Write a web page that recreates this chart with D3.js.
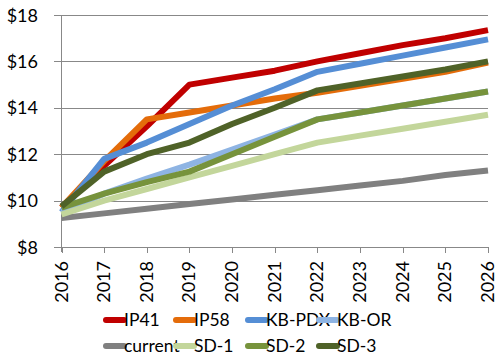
<!DOCTYPE html>
<html>
<head>
<meta charset="utf-8">
<script src="https://cdn.jsdelivr.net/npm/d3@7"></script>
<style>
  body { margin: 0; background: #fff; }
  text { font-family: Lato, 'Open Sans', sans-serif; fill: #000; }
</style>
</head>
<body>
<div id="chart"></div>
<script>
const years = [2016, 2017, 2018, 2019, 2020, 2021, 2022, 2023, 2024, 2025, 2026]
const seriesNames = ['IP41', 'IP58', 'KB-PDX', 'KB-OR', 'current', 'SD-1', 'SD-2', 'SD-3']
const ip41 = [9.7, 11.5, 13.2, 15.0, 15.3, 15.6, 16.0, 16.35, 16.7, 17.0, 17.35]
const ip58 = [9.7, 11.7, 13.5, 13.8, 14.1, 14.4, 14.65, 14.95, 15.25, 15.55, 15.95]
const kbPdx = [9.5, 11.8, 12.5, 13.3, 14.1, 14.8, 15.55, 15.9, 16.25, 16.6, 16.95]
const kbOr = [9.5, 10.3, 10.95, 11.55, 12.2, 12.85, 13.5, 13.8, 14.1, 14.4, 14.7]
const current = [9.25, 9.45, 9.65, 9.85, 10.05, 10.25, 10.45, 10.65, 10.85, 11.1, 11.3]
const sd1 = [9.4, 10.0, 10.5, 11.0, 11.5, 12.0, 12.5, 12.8, 13.1, 13.4, 13.7]
const sd2 = [9.7, 10.3, 10.8, 11.25, 12.0, 12.75, 13.5, 13.8, 14.1, 14.4, 14.7]
const sd3 = [9.75, 11.25, 12.0, 12.5, 13.3, 14.0, 14.75, 15.05, 15.35, 15.65, 16.0]
const seriesValues = [ip41, ip58, kbPdx, kbOr, current, sd1, sd2, sd3]
const colors = ['#C00000', '#E46C0A', '#558ED5', '#8EB4E3', '#808080', '#C3D69B', '#77933C', '#4F6228']
const yTicks = [8, 10, 12, 14, 16, 18]

const W = 497
const H = 362

const svg = d3.select('#chart')
  .append('svg')
  .attr('width', W)
  .attr('height', H)

const x = d3.scaleLinear().domain([2016, 2026]).range([61.5, 488])
const y = d3.scaleLinear().domain([8, 18]).range([247, 15])

// gridlines
svg.selectAll('.grid')
  .data(yTicks)
  .join('line')
  .attr('x1', 54)
  .attr('x2', 488)
  .attr('y1', (d) => Math.round(y(d)) + 0.5)
  .attr('y2', (d) => Math.round(y(d)) + 0.5)
  .attr('stroke', '#888')
  .attr('stroke-width', 1)

// y axis line
svg.append('line')
  .attr('x1', 61.5).attr('x2', 61.5)
  .attr('y1', 15).attr('y2', 252)
  .attr('stroke', '#888')

// x tick marks
svg.selectAll('.xtick')
  .data(years)
  .join('line')
  .attr('x1', (d) => Math.round(x(d)) + 0.5)
  .attr('x2', (d) => Math.round(x(d)) + 0.5)
  .attr('y1', 247)
  .attr('y2', 253)
  .attr('stroke', '#888')

// y labels
svg.selectAll('.ylab')
  .data(yTicks)
  .join('text')
  .attr('x', 38)
  .attr('y', (d) => y(d) + 6.5)
  .attr('text-anchor', 'end')
  .style('font-size', '18px')
  .text((d) => '$' + d)

// x labels rotated
svg.selectAll('.xlab')
  .data(years)
  .join('text')
  .attr('transform', (d) => `translate(${x(d) + 6},261) rotate(-90)`)
  .attr('text-anchor', 'end')
  .style('font-size', '18px')
  .text((d) => d)

// lines
const line = d3.line()
  .x((d, i) => x(years[i]))
  .y((d) => y(d))

svg.selectAll('.series')
  .data(seriesValues)
  .join('path')
  .attr('d', (d) => line(d))
  .attr('fill', 'none')
  .attr('stroke', (d, i) => colors[i])
  .attr('stroke-width', 6)
  .attr('stroke-linejoin', 'round')

// legend
const legendX = [106, 176, 248, 319]
const legendY = [320, 346]
const legend = svg.selectAll('.legend')
  .data(seriesNames)
  .join('g')
  .attr('transform', (d, i) => `translate(${legendX[i % 4]},${legendY[Math.floor(i / 4)]})`)

legend.append('line')
  .attr('x1', 0).attr('x2', 18)
  .attr('y1', 0).attr('y2', 0)
  .attr('stroke', (d, i) => colors[i])
  .attr('stroke-width', 6)
  .attr('stroke-linecap', 'round')

legend.append('text')
  .attr('x', 18)
  .attr('y', 6)
  .style('font-size', '17.5px')
  .text((d) => d)
</script>
</body>
</html>
